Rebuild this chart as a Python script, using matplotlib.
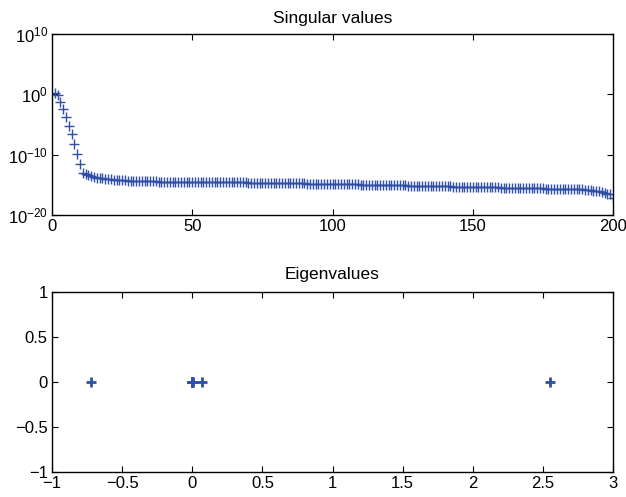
import numpy as np
import matplotlib
matplotlib.use('Agg')
import matplotlib.pyplot as plt

plt.rcParams['font.family'] = ['Liberation Sans', 'DejaVu Sans']
plt.rcParams['mathtext.fontset'] = 'custom'
plt.rcParams['mathtext.rm'] = 'Liberation Sans'
plt.rcParams['mathtext.it'] = 'Liberation Sans'
plt.rcParams['font.size'] = 12

# log10 of the singular values, index 1..200
sv_log10 = [
    0.28, -0.12, -1.20, -2.50, -3.80, -5.20, -6.60, -8.20, -9.90, -11.60,
    -13.00, -13.20, -13.40, -13.55, -13.70, -13.80, -13.90, -13.95, -14.00, -14.05,
    -14.10, -14.15, -14.20, -14.22, -14.25, -14.28, -14.30, -14.32, -14.34, -14.36,
    -14.38, -14.39, -14.40, -14.41, -14.42, -14.43, -14.44, -14.45, -14.45, -14.46,
    -14.46, -14.47, -14.47, -14.48, -14.48, -14.49, -14.49, -14.50, -14.50, -14.50,
    -14.51, -14.51, -14.52, -14.52, -14.53, -14.53, -14.54, -14.54, -14.55, -14.55,
    -14.56, -14.57, -14.57, -14.58, -14.59, -14.59, -14.60, -14.61, -14.61, -14.62,
    -14.63, -14.63, -14.64, -14.65, -14.65, -14.66, -14.67, -14.68, -14.68, -14.69,
    -14.70, -14.71, -14.71, -14.72, -14.73, -14.74, -14.75, -14.75, -14.76, -14.77,
    -14.78, -14.79, -14.79, -14.80, -14.81, -14.82, -14.83, -14.83, -14.84, -14.85,
    -14.86, -14.87, -14.88, -14.89, -14.90, -14.91, -14.92, -14.93, -14.94, -14.95,
    -14.96, -14.97, -14.98, -14.99, -15.00, -15.01, -15.02, -15.03, -15.04, -15.05,
    -15.06, -15.07, -15.08, -15.09, -15.10, -15.11, -15.12, -15.13, -15.14, -15.15,
    -15.16, -15.17, -15.18, -15.19, -15.20, -15.21, -15.22, -15.23, -15.24, -15.25,
    -15.26, -15.27, -15.28, -15.29, -15.30, -15.31, -15.32, -15.33, -15.34, -15.35,
    -15.36, -15.37, -15.38, -15.39, -15.40, -15.41, -15.42, -15.43, -15.44, -15.45,
    -15.46, -15.47, -15.48, -15.49, -15.50, -15.51, -15.52, -15.53, -15.54, -15.55,
    -15.56, -15.57, -15.58, -15.59, -15.60, -15.61, -15.62, -15.63, -15.64, -15.65,
    -15.66, -15.67, -15.68, -15.69, -15.70, -15.71, -15.72, -15.73, -15.75, -15.78,
    -15.85, -15.90, -15.95, -16.00, -16.10, -16.20, -16.30, -16.45, -16.60, -17.10,
]
sv_index = list(range(1, 201))

# eigenvalues (real, imag)
eig_re = [-0.72, 0.0, 0.0, 0.0, 0.004, -0.004, 0.07, 2.55]
eig_im = [0.0, 0.0, 0.0, 0.0, 0.0, 0.0, 0.0, 0.0]

blue = '#2f4fa8'

fig = plt.figure(figsize=(6.26, 4.97), dpi=100)
ax1 = fig.add_axes([52 / 626, 1 - 215 / 497, 561 / 626, 181 / 497])
ax2 = fig.add_axes([52 / 626, 1 - 472 / 497, 561 / 626, 180 / 497])

ax1.semilogy(sv_index, 10 ** np.array(sv_log10), '+', color=blue,
             markersize=6.5, markeredgewidth=1.0)
ax1.set_xlim(0, 200)
ax1.set_ylim(1e-20, 1e10)
ax1.set_xticks([0, 50, 100, 150, 200])
ax1.set_yticks([1e-20, 1e-10, 1e0, 1e10])
ax1.set_yticklabels([r'$10^{-20}$', r'$10^{-10}$', r'$10^{0}$', r'$10^{10}$'])
ax1.minorticks_off()
ax1.set_title('Singular values', fontsize=12.5, pad=8)

ax2.plot(eig_re, eig_im, '+', color=blue, markersize=7, markeredgewidth=2.0)
ax2.set_xlim(-1, 3)
ax2.set_ylim(-1, 1)
ax2.set_xticks([-1, -0.5, 0, 0.5, 1, 1.5, 2, 2.5, 3])
ax2.set_xticklabels(['\u22121', '\u22120.5', '0', '0.5', '1', '1.5', '2', '2.5', '3'])
ax2.set_yticks([-1, -0.5, 0, 0.5, 1])
ax2.set_yticklabels(['\u22121', '\u22120.5', '0', '0.5', '1'])
ax2.set_title('Eigenvalues', fontsize=12.5, pad=9)

for ax in (ax1, ax2):
    ax.tick_params(direction='in', top=True, right=True, length=4,
                   width=0.8, labelsize=12, pad=3)
    for s in ax.spines.values():
        s.set_linewidth(1.0)

fig.savefig('out.png', dpi=100)
